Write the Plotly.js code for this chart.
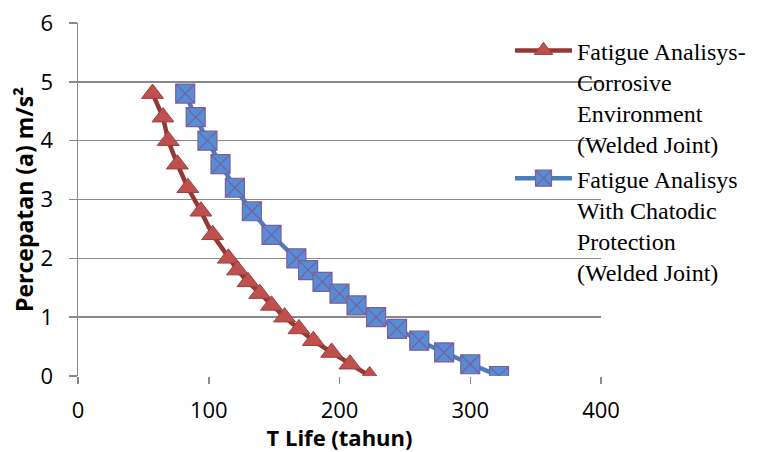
<!DOCTYPE html>
<html>
<head>
<meta charset="utf-8">
<script src="https://cdn.plot.ly/plotly-3.0.1.min.js"></script>
<style>html,body{margin:0;padding:0;background:#fff;}#chart{width:767px;height:452px;}</style>
</head>
<body>
<div id="chart"></div>
<script>
// Data
const accel = [4.8, 4.4, 4.0, 3.6, 3.2, 2.8, 2.4, 2.0, 1.8, 1.6, 1.4, 1.2, 1.0, 0.8, 0.6, 0.4, 0.2, 0.0];
const lifeCorrosive = [57, 65, 69, 76, 84, 94, 103, 115, 122, 130, 139, 148, 158, 169, 180, 194, 208, 223];
const lifeCathodic = [82, 90, 99, 109, 120, 133, 148, 167, 176, 187, 200, 213, 228, 244, 261, 280, 300, 322];
const seriesNames = [
  "Fatigue Analisys-<br>Corrosive<br>Environment<br>(Welded Joint)",
  "Fatigue Analisys<br>With Chatodic<br>Protection<br>(Welded Joint)"
];
const xTicks = [0, 100, 200, 300, 400];
const yTicks = [0, 1, 2, 3, 4, 5, 6];

const traces = [
  {
    x: lifeCorrosive, y: accel, name: seriesNames[0], type: 'scatter', mode: 'lines+markers',
    line: {color: '#953735', width: 4.5},
    marker: {symbol: 'triangle-up', size: 19, color: '#C0504D', line: {color: '#98403D', width: 1}}
  },
  {
    x: lifeCathodic, y: accel, name: seriesNames[1], type: 'scatter', mode: 'lines+markers',
    line: {color: '#4A7EBB', width: 4.5},
    marker: {symbol: 'square-x', size: 19, color: '#558ED5', line: {color: '#7E5C9E', width: 1.2}}
  }
];

const tickFont = {family: 'Open Sans, Lato, sans-serif', size: 22, color: '#000'};
const layout = {
  width: 767, height: 452,
  margin: {l: 78, r: 166, t: 23, b: 76},
  paper_bgcolor: '#fff', plot_bgcolor: '#fff',
  showlegend: true,
  legend: {
    x: 0.826, xanchor: 'left', y: 0.985, yanchor: 'top', valign: 'top',
    bgcolor: 'rgba(0,0,0,0)', borderwidth: 0,
    font: {family: 'Liberation Serif, Times New Roman, serif', size: 24, color: '#000'},
    itemwidth: 57, tracegroupgap: 6
  },
  xaxis: {
    range: [0, 400], tickvals: xTicks, ticktext: xTicks.map(String),
    automargin: false,
    showgrid: false, zeroline: false,
    showline: false,
    ticks: 'outside', ticklen: 7, tickwidth: 1.5, tickcolor: '#8a8a8a',
    ticklabelstandoff: 8,
    tickfont: tickFont,
    title: {text: '<b>T Life (tahun)</b>', font: {family: 'Open Sans, Lato, sans-serif', size: 22, color: '#000'}, standoff: 2}
  },
  yaxis: {
    range: [0, 6], tickvals: yTicks, ticktext: yTicks.map(String),
    automargin: false,
    showgrid: true, gridcolor: '#8a8a8a', gridwidth: 1.5,
    zeroline: false,
    showline: true, linecolor: '#8a8a8a', linewidth: 1.5,
    ticks: 'outside', ticklen: 8, tickwidth: 1.5, tickcolor: '#8a8a8a',
    ticklabelstandoff: 11,
    tickfont: tickFont,
    title: {text: '<b>Percepatan (a) m/s²</b>', font: {family: 'Open Sans, Lato, sans-serif', size: 23, color: '#000'}, standoff: 0}
  }
};

Plotly.newPlot('chart', traces, layout, {staticPlot: true, displayModeBar: false});
</script>
</body>
</html>
